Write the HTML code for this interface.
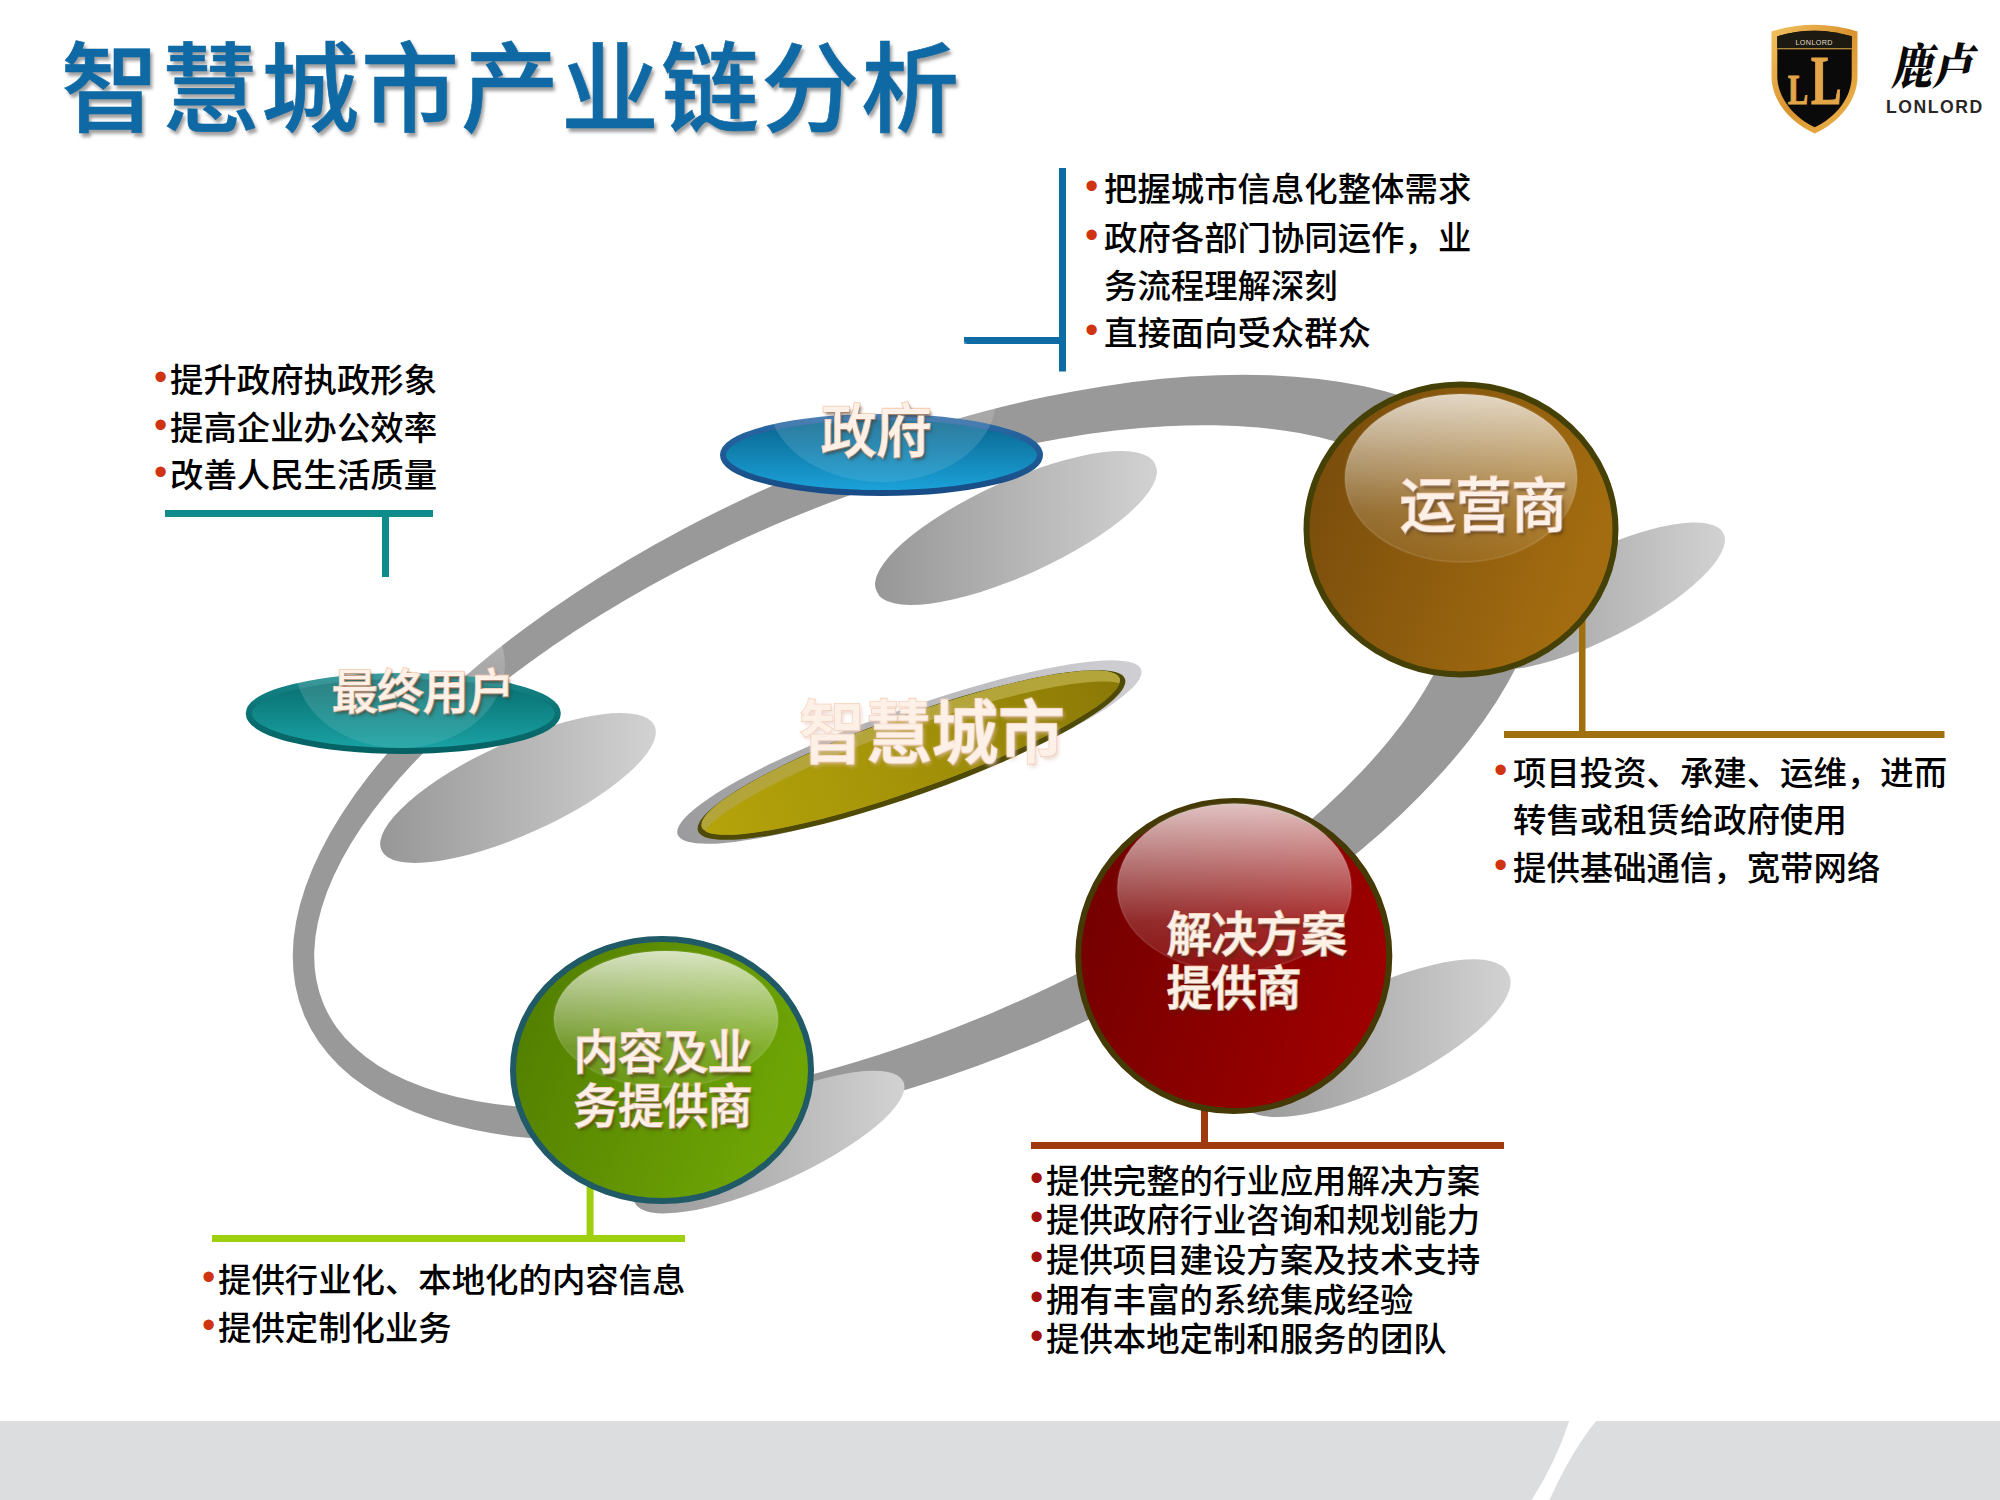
<!DOCTYPE html>
<html lang="zh-CN">
<head>
<meta charset="utf-8">
<title>智慧城市产业链分析</title>
<style>
html,body{margin:0;padding:0;background:#fff;}
body{width:2000px;height:1500px;position:relative;overflow:hidden;
  font-family:"Liberation Sans","Noto Sans CJK SC",sans-serif;}
#stage{position:absolute;left:0;top:0;width:2000px;height:1500px;overflow:hidden;}
svg#gfx{position:absolute;left:0;top:0;}
.t{position:absolute;white-space:nowrap;margin:0;padding:0;}
#title{left:61px;top:20px;font-size:98px;line-height:140px;font-weight:500;color:#0f69a5;-webkit-text-stroke:.6px #0f69a5;
  letter-spacing:2px;text-shadow:2.5px 3.5px 3.5px rgba(95,95,95,.6);}
.li{font-size:33.4px;line-height:48px;font-weight:500;color:#000;}
.li .b{position:absolute;top:-4px;color:#cf3311;font-family:"Liberation Sans",sans-serif;font-weight:400;font-size:38px;}
.lbl{position:absolute;white-space:nowrap;font-weight:500;color:#fdf0e6;text-align:left;
  -webkit-text-stroke:2px #f7d3bd;paint-order:stroke fill;transform:scale(1,1.05);transform-origin:50% 50%;
  text-shadow:2px 3px 3px rgba(70,40,20,.5);}
</style>
</head>
<body>
<div id="stage">
<svg id="gfx" width="2000" height="1500" viewBox="0 0 2000 1500">
<defs>
  <linearGradient id="shG" x1="0" y1="0" x2="1" y2="0">
    <stop offset="0" stop-color="#979797"/><stop offset="1" stop-color="#d2d2d2"/>
  </linearGradient>
  <linearGradient id="hl" x1="0" y1="0" x2="0" y2="1">
    <stop offset="0" stop-color="#fff" stop-opacity=".76"/>
    <stop offset=".35" stop-color="#fff" stop-opacity=".46"/>
    <stop offset=".7" stop-color="#fff" stop-opacity=".17"/>
    <stop offset="1" stop-color="#fff" stop-opacity=".07"/>
  </linearGradient>
  <linearGradient id="hl2" x1="0" y1="0" x2="0" y2="1">
    <stop offset="0" stop-color="#fff" stop-opacity=".4"/>
    <stop offset=".5" stop-color="#fff" stop-opacity=".16"/>
    <stop offset="1" stop-color="#fff" stop-opacity=".09"/>
  </linearGradient>
  <linearGradient id="gBlue" x1="0" y1="0" x2="0" y2="1">
    <stop offset="0" stop-color="#08628a"/><stop offset="1" stop-color="#1ca4dc"/>
  </linearGradient>
  <linearGradient id="sTeal" x1="0" y1="0" x2="0" y2="1">
    <stop offset="0" stop-color="#178789"/><stop offset=".5" stop-color="#0b7274"/><stop offset="1" stop-color="#056163"/>
  </linearGradient>
  <linearGradient id="sBlue" x1="0" y1="0" x2="0" y2="1">
    <stop offset="0" stop-color="#2b6aa6"/><stop offset=".5" stop-color="#1f5a94"/><stop offset="1" stop-color="#184c86"/>
  </linearGradient>
  <linearGradient id="gTeal" x1="0" y1="0" x2="0" y2="1">
    <stop offset="0" stop-color="#07696b"/><stop offset="1" stop-color="#1aa4a6"/>
  </linearGradient>
  <linearGradient id="gOlive" x1="0" y1="0" x2="1" y2="0">
    <stop offset="0" stop-color="#b5a40a"/><stop offset=".5" stop-color="#a39208"/><stop offset="1" stop-color="#8a7807"/>
  </linearGradient>
  <linearGradient id="shO" x1="0" y1="0" x2="1" y2="0">
    <stop offset="0" stop-color="#9b9b9d"/><stop offset="1" stop-color="#cfcfd4"/>
  </linearGradient>
  <clipPath id="olClip"><ellipse cx="0" cy="-2.6" rx="222" ry="37.2"/></clipPath>
  <linearGradient id="gBrown" x1="0" y1="0" x2="1" y2="0.35">
    <stop offset="0" stop-color="#74490b"/><stop offset="1" stop-color="#a36c10"/>
  </linearGradient>
  <linearGradient id="gRed" x1="0" y1="0" x2="1" y2="0.35">
    <stop offset="0" stop-color="#6f0000"/><stop offset="1" stop-color="#9c0000"/>
  </linearGradient>
  <linearGradient id="gGreen" x1="0" y1="0" x2="1" y2="0.35">
    <stop offset="0" stop-color="#507a00"/><stop offset="1" stop-color="#6ea505"/>
  </linearGradient>
  <linearGradient id="gold" x1="0" y1="0" x2="1" y2="1">
    <stop offset="0" stop-color="#f3c260"/><stop offset=".5" stop-color="#d9932f"/><stop offset="1" stop-color="#f0b850"/>
  </linearGradient>
</defs>

<!-- footer -->
<rect x="0" y="1421" width="2000" height="79" fill="#dcddde"/>
<path d="M1569.5 1420 Q1556 1462 1531 1501 L1549 1501 Q1572 1450 1597 1420 Z" fill="#fff"/>

<!-- orbit ring -->
<path fill="#999999" fill-rule="evenodd" d="
M -666.5 0 A 666.5 308 0 1 0 666.5 0 A 666.5 308 0 1 0 -666.5 0 Z" transform="translate(919,758) rotate(-22.7)"/>
<path fill="#ffffff" d="
M -612 0 A 612 267 0 1 0 612 0 A 612 267 0 1 0 -612 0 Z" transform="translate(887.8,767) rotate(-22.8)"/>

<!-- perspective shadows -->
<path fill="url(#shG)" d="M876.8 591.4A153 46 -24.5 1 0 1155.2 464.6A153 46 -24.5 1 0 876.8 591.4Z"/>
<path fill="url(#shG)" d="M381.5 850.2A150 46 -24.5 1 0 654.5 725.8A150 46 -24.5 1 0 381.5 850.2Z"/>
<path fill="url(#shG)" d="M1471.1 659.2A141 43 -26.5 1 0 1723.5 533.4A141 43 -26.5 1 0 1471.1 659.2Z"/>
<path fill="url(#shG)" d="M1242.2 1102.8A148 48 -25.9 1 0 1508.4 973.6A148 48 -25.9 1 0 1242.2 1102.8Z"/>
<path fill="url(#shG)" d="M634.6 1202.5A147.3 41.5 -24.2 1 0 903.4 1081.7A147.3 41.5 -24.2 1 0 634.6 1202.5Z"/>

<!-- connectors -->
<g>
  <rect x="1059" y="168" width="7" height="203.5" fill="#0f6ba3"/>
  <rect x="964" y="337" width="96" height="7" fill="#0f6ba3"/>
  <rect x="165" y="510" width="268" height="7" fill="#0e8c8c"/>
  <rect x="382" y="516" width="7" height="61" fill="#0e8c8c"/>
  <rect x="1579" y="610" width="6.5" height="122" fill="#a0700f"/>
  <rect x="1504" y="731" width="440.5" height="7" fill="#a0700f"/>
  <rect x="1201" y="1095" width="7" height="49" fill="#9e3a0e"/>
  <rect x="1031" y="1142" width="473" height="7" fill="#9e3a0e"/>
  <rect x="586.6" y="1180" width="7" height="56" fill="#9fd010"/>
  <rect x="212" y="1235" width="473" height="7" fill="#9fd010"/>
</g>

<!-- zhihui chengshi ellipse -->
<g transform="translate(911.5,755) rotate(-19.6)">
  <ellipse cx="-1" cy="-3.5" rx="246" ry="42.5" fill="url(#shO)"/>
  <ellipse cx="0" cy="0" rx="226.6" ry="40" fill="#4f4a06"/>
  <g clip-path="url(#olClip)">
    <ellipse cx="0" cy="-2.6" rx="222" ry="37.2" fill="#b3a53a"/>
    <ellipse cx="0" cy="11" rx="226" ry="38" fill="url(#gOlive)"/>
  </g>
</g>

<!-- zhengfu -->
<ellipse cx="881.5" cy="455" rx="158.5" ry="38" fill="url(#gBlue)" stroke="url(#sBlue)" stroke-width="6"/>
<!-- zuizhong yonghu -->
<ellipse cx="403.3" cy="713.4" rx="154.5" ry="37.5" fill="url(#gTeal)" stroke="url(#sTeal)" stroke-width="6"/>


<!-- glass highlights on flat ellipses -->
<ellipse cx="882" cy="399" rx="114" ry="83" fill="url(#hl2)"/>
<ellipse cx="400" cy="665" rx="105" ry="83" fill="url(#hl2)"/>

<!-- spheres -->
<ellipse cx="1461" cy="529.4" rx="154.5" ry="145" fill="url(#gBrown)" stroke="#454005" stroke-width="6"/>
<ellipse cx="1461" cy="478" rx="116" ry="84" fill="url(#hl)" stroke="#fff" stroke-opacity=".10" stroke-width="2"/>
<ellipse cx="1233.8" cy="956" rx="155.5" ry="155" fill="url(#gRed)" stroke="#453a05" stroke-width="6"/>
<ellipse cx="1234.4" cy="887.6" rx="117" ry="84" fill="url(#hl)" stroke="#fff" stroke-opacity=".10" stroke-width="2"/>
<ellipse cx="662" cy="1070" rx="149" ry="131" fill="url(#gGreen)" stroke="#1f5a66" stroke-width="6"/>
<ellipse cx="666" cy="1019" rx="112" ry="68" fill="url(#hl)" stroke="#fff" stroke-opacity=".10" stroke-width="2"/>


<!-- logo -->
<g id="logo">
  <path d="M1771.5 31.5 Q1814.5 18 1857.5 31.5 L1857.5 76 C1857.5 100 1840 122 1814.7 133.5 C1789 122 1771.5 100 1771.5 76 Z" fill="url(#gold)"/>
  <path d="M1777.3 36.3 Q1814.5 25 1851.7 36.3 L1851.7 76 C1851.7 97 1836.5 117 1814.7 127.2 C1793 117 1777.3 97 1777.3 76 Z" fill="#0a0a0a"/>
  <path d="M1777.3 36.3 Q1814.5 25 1851.7 36.3 L1851.7 48.2 L1777.3 48.2 Z" fill="#1d1a12"/>
  <rect x="1777.3" y="48.2" width="74.4" height="1.1" fill="#d9a545"/>
  <text x="1814.2" y="44.6" text-anchor="middle" font-family="'Liberation Sans',sans-serif" font-size="7.2" letter-spacing=".4" fill="#e6dcc8">LONLORD</text>
  <text transform="translate(1788,103.6) scale(.70,1)" font-family="'Liberation Serif',serif" font-weight="700" font-size="43" fill="#e3a548" stroke="#e3a548" stroke-width="1.2">L</text>
  <text transform="translate(1811,103.6) scale(.66,1)" font-family="'Liberation Serif',serif" font-weight="700" font-size="69.5" fill="#e3a548" stroke="#e3a548" stroke-width="1.2">L</text>
  <text transform="translate(1891,84) skewX(-12) scale(.91,1.08)" font-family="'Liberation Serif','Noto Serif CJK SC',serif" font-weight="900" font-size="45" fill="#0a0a0a">鹿卢</text>
  <text x="1886" y="112.6" font-family="'Liberation Sans',sans-serif" font-weight="700" font-size="17.6" letter-spacing="1.55" fill="#2a2626">LONLORD</text>
</g>


</svg>

<div id="title" class="t">智慧城市产业链分析</div>
<!-- list: end users -->
<div class="t li" style="left:170px;top:357px;"><span class="b" style="left:-16px;">•</span>提升政府执政形象</div>
<div class="t li" style="left:170px;top:405px;"><span class="b" style="left:-16px;">•</span>提高企业办公效率</div>
<div class="t li" style="left:170px;top:452px;"><span class="b" style="left:-16px;">•</span>改善人民生活质量</div>
<!-- list: government -->
<div class="t li" style="left:1104px;top:166px;"><span class="b" style="left:-19px;">•</span>把握城市信息化整体需求</div>
<div class="t li" style="left:1104px;top:215px;"><span class="b" style="left:-19px;">•</span>政府各部门协同运作，业</div>
<div class="t li" style="left:1104px;top:263px;">务流程理解深刻</div>
<div class="t li" style="left:1104px;top:310px;"><span class="b" style="left:-19px;">•</span>直接面向受众群众</div>
<!-- list: operator -->
<div class="t li" style="left:1513px;top:750px;"><span class="b" style="left:-19px;">•</span>项目投资、承建、运维，进而</div>
<div class="t li" style="left:1513px;top:797px;">转售或租赁给政府使用</div>
<div class="t li" style="left:1513px;top:845px;"><span class="b" style="left:-19px;">•</span>提供基础通信，宽带网络</div>
<!-- list: solution -->
<div class="t li" style="left:1046px;top:1158px;"><span class="b" style="left:-16px;color:#a31212;">•</span>提供完整的行业应用解决方案</div>
<div class="t li" style="left:1046px;top:1197px;"><span class="b" style="left:-16px;color:#a31212;">•</span>提供政府行业咨询和规划能力</div>
<div class="t li" style="left:1046px;top:1237px;"><span class="b" style="left:-16px;color:#a31212;">•</span>提供项目建设方案及技术支持</div>
<div class="t li" style="left:1046px;top:1277px;"><span class="b" style="left:-16px;color:#a31212;">•</span>拥有丰富的系统集成经验</div>
<div class="t li" style="left:1046px;top:1316px;"><span class="b" style="left:-16px;color:#a31212;">•</span>提供本地定制和服务的团队</div>
<!-- list: content -->
<div class="t li" style="left:218px;top:1257px;"><span class="b" style="left:-16px;">•</span>提供行业化、本地化的内容信息</div>
<div class="t li" style="left:218px;top:1305px;"><span class="b" style="left:-16px;">•</span>提供定制化业务</div>
<!-- labels -->
<div class="lbl" style="left:821px;top:392px;font-size:55.5px;line-height:80px;">政府</div>
<div class="lbl" style="left:332px;top:661px;font-size:45.6px;line-height:64px;">最终用户</div>
<div class="lbl" style="left:799px;top:685.5px;font-size:66.4px;line-height:96px;text-shadow:0 0 3px rgba(255,240,232,.9),2px 3px 4px rgba(222,186,170,.65);">智慧城市</div>
<div class="lbl" style="left:1400px;top:467px;font-size:55.8px;line-height:80px;">运营商</div>
<div class="lbl" style="left:1167px;top:910.8px;font-size:44.8px;line-height:51.4px;">解决方案<br>提供商</div>
<div class="lbl" style="left:574px;top:1029.1px;font-size:44.6px;line-height:51.1px;">内容及业<br>务提供商</div>

</div>
</body>
</html>
